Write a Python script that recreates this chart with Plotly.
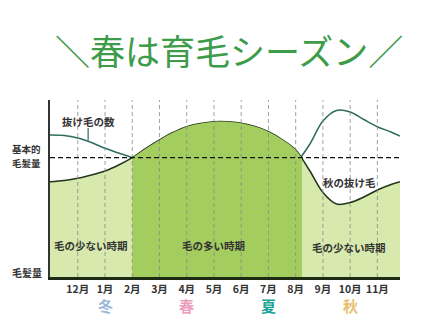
import plotly.graph_objects as go

# ---- data ----
months = ["12月", "1月", "2月", "3月", "4月", "5月", "6月", "7月", "8月", "9月", "10月", "11月"]
month_pos = list(range(12))

seasons = ["冬", "春", "夏", "秋"]
season_pos = [1, 4, 7, 10]
season_colors = ["#9db9d6", "#ee9cbd", "#19a394", "#e8c06f"]

curve_x = [-1.02, -0.5, 0, 0.5, 1, 1.5, 2, 2.5, 3, 3.5, 4, 4.5, 5, 5.5, 6, 6.5, 7, 7.5,
           8, 8.5, 9, 9.5, 10, 10.5, 11, 11.5, 11.83]
# hair amount (毛髪量)
hair_y = [95.3, 96.5, 98.7, 102, 106, 112, 119.3, 128.5, 137, 144.5, 150.3, 153.5, 155.3, 155.3,
          153.7, 150.5, 145.3, 137.5, 127, 107, 84.5, 73, 74.5, 80, 87, 92.5, 95.3]
# falling hair count (抜け毛の数)
fall_y = [142, 141.5, 139, 134.5, 128.7, 124, 119.3, 112, 105, 98, 92, 87.5, 84, 82.5,
          84.5, 88.5, 94, 103, 113.7, 132, 156, 166.5, 165, 157.5, 150.3, 145, 141]

baseline = 119.3                 # 基本的毛髪量
many_start, many_end = 2, 8.23   # 毛の多い時期

X_RANGE = [-1.02, 11.83]
FONT = "Noto Sans CJK JP"
LIGHT = "#d7e9ad"
DARK = "#a3cd5f"

span = X_RANGE[1] - X_RANGE[0]
dom2 = [(many_start - X_RANGE[0]) / span, (many_end - X_RANGE[0]) / span]

fig = go.Figure()

# light fill under whole curve
fig.add_trace(go.Scatter(x=curve_x, y=hair_y, mode="lines", line=dict(width=0, shape="spline"),
                         fill="tozeroy", fillcolor=LIGHT, hoverinfo="skip", showlegend=False))
# dark fill for the "many" period: same curve on a clipped axis with identical scale
fig.add_trace(go.Scatter(x=curve_x, y=hair_y, mode="lines", line=dict(width=0, shape="spline"),
                         fill="tozeroy", fillcolor=DARK, hoverinfo="skip", showlegend=False,
                         xaxis="x2", yaxis="y"))

# month grid lines (above fills)
for m in month_pos:
    fig.add_shape(type="line", xref="x", yref="paper", x0=m, x1=m, y0=0, y1=1,
                  line=dict(color="#8a8a8a", width=0.8, dash="4px,3px"), layer="above")

# baseline dashed
fig.add_shape(type="line", xref="paper", yref="y", x0=0, x1=1, y0=baseline, y1=baseline,
              line=dict(color="#111111", width=1.2, dash="5px,3px"), layer="above")

# curves
fig.add_trace(go.Scatter(x=curve_x, y=fall_y, mode="lines",
                         line=dict(color="#2c6b5e", width=1.5, shape="spline"),
                         hoverinfo="skip", showlegend=False))
fig.add_trace(go.Scatter(x=curve_x, y=hair_y, mode="lines",
                         line=dict(color="#22351a", width=1.5, shape="spline"),
                         hoverinfo="skip", showlegend=False))

# leader line for 抜け毛の数
fig.add_shape(type="line", xref="x", yref="y", x0=0.38, x1=0.38, y0=149, y1=136.5,
              line=dict(color="#2c6b5e", width=1.2))

def ann(text, x, y, size=10.5, color="#333333", xref="x", yref="y", weight="bold", **kw):
    fig.add_annotation(text=text, x=x, y=y, xref=xref, yref=yref, showarrow=False,
                       xanchor="center", yanchor="middle",
                       font=dict(family=FONT, size=size, color=color, weight=weight), **kw)

ann("抜け毛の数", 0.38, 156)
ann("秋の抜け毛", 9.96, 95)
ann("毛の少ない時期", 0.5, 32)
ann("毛の多い時期", 5.0, 32)
ann("毛の少ない時期", 9.96, 30)

ann("基本的", -0.066, baseline + 9.2, size=9.5, xref="paper")
ann("毛髪量", -0.066, baseline - 5.5, size=9.5, xref="paper")
ann("毛髪量", -0.066, 5, size=10, xref="paper")

for s, p, c in zip(seasons, season_pos, season_colors):
    ann(s, p, -0.163, size=15, color=c, yref="paper")

# title
ann("＼春は育毛シーズン／", 0.51, 1.283, size=35, color="#3d9c4a", xref="paper", yref="paper",
    weight="normal")

fig.update_layout(
    width=435, height=333,
    margin=dict(l=50, r=35, t=100, b=56),
    paper_bgcolor="white", plot_bgcolor="rgba(0,0,0,0)",
    font=dict(family=FONT),
    xaxis=dict(range=X_RANGE, tickvals=month_pos, ticktext=months,
               showgrid=False, zeroline=False, showline=True, linecolor="#1e2b14", linewidth=3,
               ticks="", tickfont=dict(family=FONT, size=10.5, color="#333333", weight="bold")),
    xaxis2=dict(domain=dom2, range=[many_start, many_end], anchor="y", visible=False,
                showgrid=False, zeroline=False),
    yaxis=dict(range=[0, 177], showgrid=False, zeroline=False, showline=True,
               linecolor="#333333", linewidth=2, showticklabels=False, ticks=""),
)

fig.write_html("out.html")
